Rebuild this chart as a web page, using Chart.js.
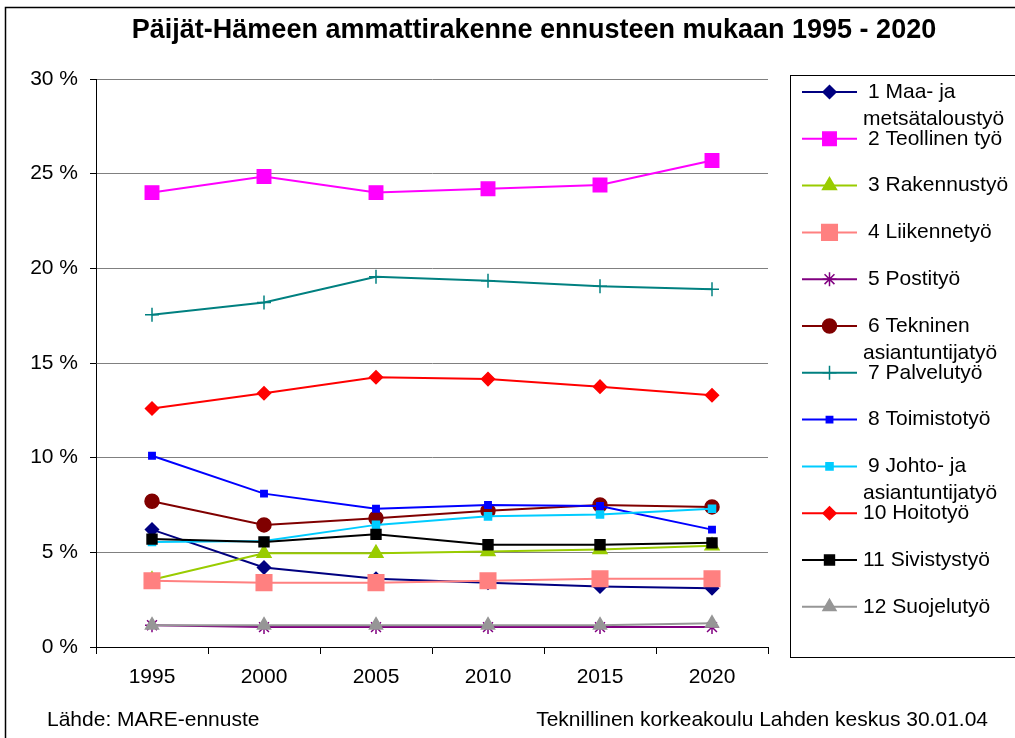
<!DOCTYPE html>
<html><head><meta charset="utf-8">
<script src="https://cdn.jsdelivr.net/npm/chart.js@4/dist/chart.umd.min.js"></script>
<style>html,body{margin:0;padding:0;background:#fff}#wrap{width:1015px;height:738px;position:relative}</style>
</head><body><div id="wrap"><canvas id="c" width="1015" height="738"></canvas></div>
<script>
const titleText = "Päijät-Hämeen ammattirakenne ennusteen mukaan 1995 - 2020";
const sourceText = "Lähde: MARE-ennuste";
const creditText = "Teknillinen korkeakoulu Lahden keskus 30.01.04";
const years = ["1995","2000","2005","2010","2015","2020"];
const yTicks = [0,5,10,15,20,25,30];

const maaMetsa   = [6.2, 4.2, 3.6, 3.4, 3.2, 3.1];
const teollinen  = [24.0, 24.85, 24.0, 24.2, 24.4, 25.7];
const rakennus   = [3.55, 4.95, 4.95, 5.05, 5.15, 5.35];
const liikenne   = [3.5, 3.4, 3.4, 3.5, 3.6, 3.6];
const posti      = [1.15, 1.05, 1.05, 1.05, 1.05, 1.05];
const tekninen   = [7.7, 6.45, 6.8, 7.2, 7.5, 7.4];
const palvelu    = [17.55, 18.2, 19.55, 19.35, 19.05, 18.9];
const toimisto   = [10.1, 8.1, 7.3, 7.5, 7.45, 6.2];
const johto      = [5.55, 5.6, 6.45, 6.9, 7.0, 7.3];
const hoito      = [12.6, 13.4, 14.25, 14.15, 13.75, 13.3];
const sivistys   = [5.7, 5.55, 5.95, 5.4, 5.4, 5.5];
const suojelu    = [1.15, 1.15, 1.15, 1.15, 1.15, 1.25];

const labels1 = [["1 Maa- ja","metsätaloustyö"],["2 Teollinen työ"],["3 Rakennustyö"],["4 Liikennetyö"],["5 Postityö"],["6 Tekninen","asiantuntijatyö"],["7 Palvelutyö"],["8 Toimistotyö"],["9 Johto- ja","asiantuntijatyö"],["10 Hoitotyö"],["11 Sivistystyö"],["12 Suojelutyö"]];

function ds(lbl, data, color, style, r){
  return {label: lbl.join(" "), lines: lbl, data, borderColor: color, backgroundColor: color,
    pointStyle: style, pointRadius: r, pointHoverRadius: r, borderWidth: 2, pointBorderWidth: 1.5, tension: 0};
}
const datasets = [
  ds(labels1[0], maaMetsa, "#000080", "rectRot", 6.5),
  ds(labels1[1], teollinen, "#FF00FF", "rect", 9.5),
  ds(labels1[2], rakennus, "#99CC00", "triangle", 8),
  ds(labels1[3], liikenne, "#FF8080", "rect", 11),
  ds(labels1[4], posti, "#800080", "star", 7),
  ds(labels1[5], tekninen, "#800000", "circle", 7),
  ds(labels1[6], palvelu, "#008080", "cross", 7),
  ds(labels1[7], toimisto, "#0000FF", "rect", 4.5),
  ds(labels1[8], johto, "#00CCFF", "rect", 5),
  ds(labels1[9], hoito, "#FF0000", "rectRot", 6.5),
  ds(labels1[10], sivistys, "#000000", "rect", 7),
  ds(labels1[11], suojelu, "#969696", "triangle", 7.5)
];
datasets.forEach((d,i)=>{ d.order = 12 - i; });

const FONT = "'Liberation Sans', Arial, sans-serif";
const FS = 21;

const decor = {
  id: 'decor',
  beforeDraw(chart){
    const ctx = chart.ctx;
    ctx.save();
    ctx.fillStyle = '#fff';
    ctx.fillRect(0,0,chart.width,chart.height);
    ctx.restore();
  },
  afterDraw(chart){
    const ctx = chart.ctx;
    ctx.save();
    ctx.strokeStyle = '#000'; ctx.lineWidth = 1.5;
    ctx.strokeRect(5.5, 7.5, 1030, 760);
    ctx.fillStyle = '#000';
    ctx.font = "bold 27px " + FONT;
    ctx.textAlign = 'center'; ctx.textBaseline = 'middle';
    ctx.fillText(titleText, 534, 31);
    ctx.font = FS + "px " + FONT;
    ctx.textAlign = 'left';
    ctx.fillText(sourceText, 47, 720);
    ctx.textAlign = 'right';
    ctx.fillText(creditText, 988, 720);
    ctx.strokeStyle = '#000'; ctx.lineWidth = 1;
    ctx.strokeRect(790.5, 75.5, 240, 582);
    const step = 46.8;
    chart.data.datasets.forEach((d, i) => {
      const y = 92 + i * step;
      ctx.strokeStyle = d.borderColor; ctx.lineWidth = 2;
      ctx.beginPath(); ctx.moveTo(802, y); ctx.lineTo(857, y); ctx.stroke();
      ctx.fillStyle = d.backgroundColor; ctx.strokeStyle = d.borderColor; ctx.lineWidth = 1.5;
      Chart.helpers.drawPoint(ctx, {pointStyle: d.pointStyle, rotation: 0, borderWidth: 1.5, radius: d.pointRadius}, 829.5, y);
      ctx.fillStyle = '#000';
      ctx.font = FS + "px " + FONT;
      ctx.textAlign = 'left'; ctx.textBaseline = 'middle';
      const two = d.lines.length > 1;
      const isTen = /^1[0-2]/.test(d.lines[0]);
      ctx.fillText(d.lines[0], isTen ? 863 : 868, y);
      if (two) ctx.fillText(d.lines[1], 863, y + 27);
    });
    ctx.restore();
  }
};

new Chart(document.getElementById('c'), {
  type: 'line',
  data: { labels: years, datasets },
  options: {
    responsive: false, animation: false,
    layout: { padding: { left: 0, right: 247, top: 79, bottom: 41 } },
    plugins: { legend: { display: false }, tooltip: { enabled: false }, title: { display: false } },
    scales: {
      x: {
        offset: true,
        grid: { offset: true, drawOnChartArea: true, color: (c) => c.index === years.length ? '#808080' : 'rgba(0,0,0,0)',
                tickColor: '#000', tickLength: 7, lineWidth: 1 },
        border: { color: '#000', width: 1 },
        ticks: { color: '#000', font: { family: FONT, size: FS }, padding: 11, maxRotation: 0 },
        afterFit(s){ s.height = 50; }
      },
      y: {
        min: 0, max: 30,
        afterBuildTicks(s){ s.ticks = yTicks.map(v => ({value: v})); },
        grid: { color: (c) => c.tick && c.tick.value === 0 ? 'rgba(0,0,0,0)' : '#808080', tickColor: '#000', tickLength: 6, lineWidth: 1 },
        border: { color: '#000', width: 1 },
        ticks: { color: '#000', font: { family: FONT, size: FS }, padding: 12, callback: (v) => v + ' %' },
        afterFit(s){ s.width = 96; }
      }
    }
  },
  plugins: [decor]
});
</script></body></html>
